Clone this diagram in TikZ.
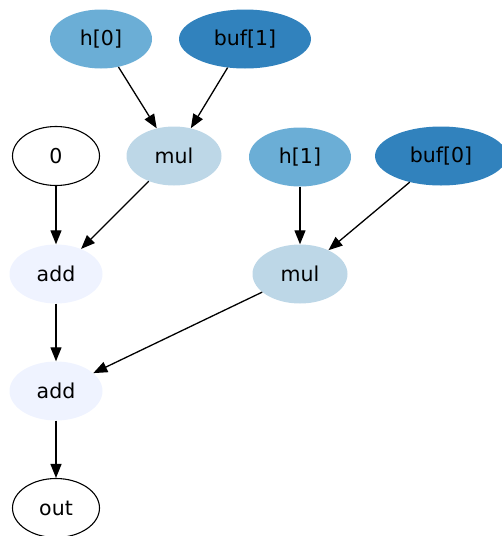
\documentclass[tikz,border=0pt]{standalone}
\usepackage{fontspec}
\setmainfont{DejaVu Sans}
\usetikzlibrary{shapes.geometric,arrows.meta}
\definecolor{hblue}{HTML}{6BAED6}
\definecolor{bufblue}{HTML}{3182BD}
\definecolor{mulblue}{HTML}{BDD7E7}
\definecolor{addblue}{HTML}{EFF3FF}
\begin{document}
\begin{tikzpicture}[x=1pt,y=-1pt,
  vertex/.style={ellipse,inner sep=0pt,minimum height=59pt,font=\fontsize{20.5}{24}\selectfont},
  hnode/.style={vertex,fill=hblue,minimum width=102pt},
  bufnode/.style={vertex,fill=bufblue,minimum width=132pt},
  mulnode/.style={vertex,fill=mulblue,minimum width=95pt},
  addnode/.style={vertex,fill=addblue,minimum width=93pt},
  plain/.style={vertex,draw=black,line width=1.1pt,minimum width=87pt},
  edge/.style={draw=black,line width=1.3pt,-{Triangle[length=14pt,width=11pt]}}]
\useasboundingbox (0,0) rectangle (502,536);
% inputs
\node[hnode]   (h0)   at (101,39)  {h[0]};
\node[bufnode] (buf1) at (245,39)  {buf[1]};
\node[plain]   (zero) at (56,156)  {0};
\node[mulnode] (mul0) at (174,156) {mul};
\node[hnode]   (h1)   at (300,157) {h[1]};
\node[bufnode] (buf0) at (441,156) {buf[0]};
% accumulation
\node[addnode] (add0) at (56,274)  {add};
\node[mulnode] (mul1) at (300,274) {mul};
\node[addnode] (add1) at (56,391)  {add};
\node[plain]   (out)  at (56,508)  {out};
% connectors
\draw[edge] (h0) -- (mul0);
\draw[edge] (buf1) -- (mul0);
\draw[edge] (zero) -- (add0);
\draw[edge] (mul0) -- (add0);
\draw[edge] (h1) -- (mul1);
\draw[edge] (buf0) -- (mul1);
\draw[edge] (add0) -- (add1);
\draw[edge] (mul1) -- (add1);
\draw[edge] (add1) -- (out);
\end{tikzpicture}
\end{document}
